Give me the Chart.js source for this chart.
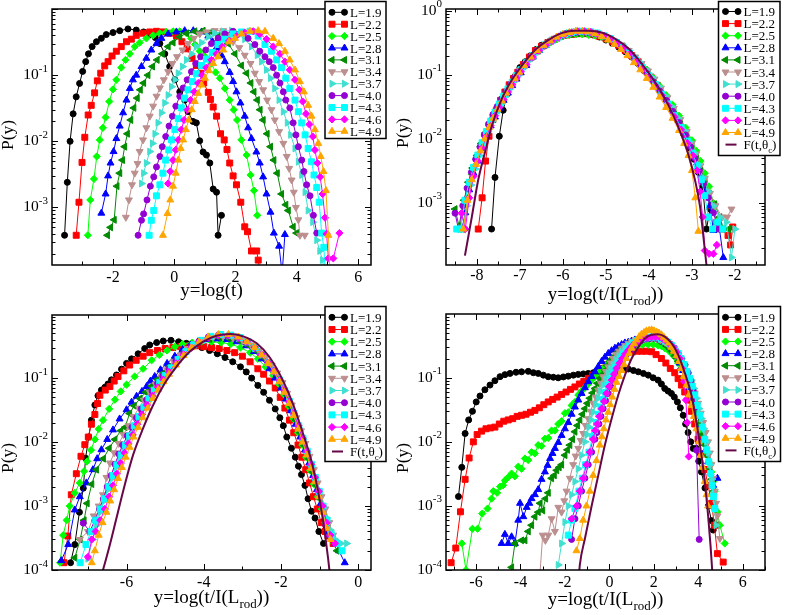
<!DOCTYPE html>
<html>
<head>
<meta charset="utf-8">
<title>P(y) distributions</title>
<script src="https://cdn.jsdelivr.net/npm/chart.js@4.4.1/dist/chart.umd.min.js"></script>
<style>
  html, body { margin: 0; padding: 0; background: #fff; }
  #wrap { position: relative; width: 789px; height: 615px; overflow: hidden; }
  canvas { position: absolute; }
</style>
</head>
<body>
<div id="wrap">
  <canvas id="c1" width="394" height="305" style="left:0;top:0"></canvas>
  <canvas id="c2" width="394" height="305" style="left:395px;top:0"></canvas>
  <canvas id="c3" width="394" height="310" style="left:0;top:305px"></canvas>
  <canvas id="c4" width="394" height="310" style="left:395px;top:305px"></canvas>
</div>
<script>
// series labels and styles
const labels = ['L=1.9','L=2.2','L=2.5','L=2.8','L=3.1','L=3.4','L=3.7','L=4.0','L=4.3','L=4.6','L=4.9'];
const colors = ['#000000','#ff0000','#00ff00','#0000ff','#008b00','#bc8f8f','#40e0d0','#9400d3','#00ffff','#ff00ff','#ffa500'];
const shapes = ['circle','rect','rectRot','triangle','triangle','triangle','triangle','circle','rect','rectRot','triangle'];
const rots   = [0,0,0,0,270,180,90,0,0,0,0];
const fColor = '#670748';

// tick labels
const xTicksA = [-2, 0, 2, 4, 6];
const xTicksB = [-8, -7, -6, -5, -4, -3, -2];
const xTicksC = [-6, -4, -2, 0];
const xTicksD = [-6, -4, -2, 0, 2, 4, 6];
const yDecA = [-3, -2, -1];
const yDecB = [-3, -2, -1, 0];
const yDecC = [-4, -3, -2, -1];
const yDecD = [-4, -3, -2, -1];

// ---------- panel A : y = log(t) ----------
const a19 = [[-3.58,3.8e-4],[-3.49,2.4e-3],[-3.40,0.010],[-3.30,0.026],[-3.20,0.047],[-3.09,0.075],[-2.99,0.114],[-2.89,0.16],[-2.80,0.21],[-2.68,0.27],[-2.54,0.32],[-2.38,0.36],[-2.22,0.41],[-2.0,0.44],[-1.78,0.47],[-1.51,0.50],[-1.24,0.48],[-1.0,0.45],[-0.78,0.41],[-0.62,0.37],[-0.47,0.30],[-0.31,0.21],[-0.15,0.135],[0.02,0.085],[0.18,0.056],[0.34,0.042],[0.45,0.028],[0.61,0.020],[0.72,0.019],[0.83,0.0102],[0.94,0.0069],[1.05,0.0062],[1.16,0.0047],[1.27,0.0019],[1.38,0.0017],[1.43,3.8e-4],[1.54,7.6e-4]];
const a22 = [[-3.20,3.8e-4],[-3.11,1.2e-3],[-3.01,4.8e-3],[-2.92,0.0115],[-2.81,0.025],[-2.71,0.035],[-2.60,0.054],[-2.51,0.082],[-2.40,0.107],[-2.27,0.138],[-2.16,0.16],[-2.03,0.195],[-1.89,0.23],[-1.73,0.27],[-1.56,0.32],[-1.40,0.35],[-1.24,0.40],[-1.02,0.43],[-0.80,0.45],[-0.58,0.46],[-0.37,0.45],[-0.15,0.43],[0.07,0.39],[0.25,0.32],[0.42,0.25],[0.58,0.18],[0.72,0.14],[0.86,0.107],[0.96,0.076],[1.11,0.055],[1.18,0.043],[1.27,0.033],[1.38,0.024],[1.51,0.013],[1.63,0.0105],[1.72,0.0075],[1.81,0.0047],[1.92,0.0030],[2.03,0.0022],[2.17,0.0012],[2.30,5.1e-4],[2.39,4.3e-4],[2.52,2.2e-4],[2.69,2.2e-4],[2.74,1.6e-4],[2.80,1.0e-4]];
const a25 = [[-2.82,3.8e-4],[-2.74,1.3e-3],[-2.62,2.7e-3],[-2.53,0.0059],[-2.43,0.0105],[-2.33,0.016],[-2.24,0.023],[-2.12,0.04],[-2.0,0.061],[-1.89,0.085],[-1.73,0.13],[-1.59,0.17],[-1.45,0.21],[-1.29,0.27],[-1.13,0.31],[-0.91,0.36],[-0.69,0.40],[-0.47,0.43],[-0.26,0.45],[-0.04,0.46],[0.18,0.46],[0.40,0.43],[0.55,0.36],[0.68,0.29],[0.83,0.23],[1.0,0.19],[1.21,0.15],[1.35,0.11],[1.49,0.09],[1.65,0.063],[1.81,0.042],[1.94,0.030],[2.05,0.021],[2.19,0.0105],[2.36,0.0062],[2.49,0.0031],[2.60,0.0018],[2.71,7.6e-4]];
const a28 = [[-2.38,8.2e-4],[-2.24,0.0016],[-2.16,0.003],[-2.08,0.0047],[-1.98,0.007],[-1.89,0.011],[-1.78,0.017],[-1.67,0.027],[-1.56,0.042],[-1.45,0.063],[-1.35,0.085],[-1.24,0.10],[-1.07,0.135],[-0.91,0.18],[-0.75,0.24],[-0.58,0.30],[-0.42,0.36],[-0.2,0.42],[0.07,0.45],[0.34,0.47],[0.62,0.47],[0.89,0.45],[1.11,0.39],[1.25,0.32],[1.38,0.26],[1.54,0.20],[1.65,0.16],[1.81,0.11],[1.92,0.08],[2.03,0.056],[2.16,0.038],[2.30,0.024],[2.41,0.016],[2.52,0.011],[2.68,0.0069],[2.79,0.0047],[2.90,0.0029],[3.01,0.0016],[3.14,8.5e-4],[3.25,4.1e-4],[3.42,2.6e-4],[3.52,1.0e-4],[3.61,3.9e-4]];
const a31 = [[-2.18,3.8e-4],[-2.08,5e-4],[-1.96,6.5e-4],[-1.87,0.0021],[-1.78,0.0033],[-1.69,0.0052],[-1.62,0.0083],[-1.53,0.013],[-1.42,0.021],[-1.32,0.032],[-1.21,0.045],[-1.11,0.06],[-1.0,0.076],[-0.86,0.10],[-0.71,0.135],[-0.56,0.17],[-0.39,0.21],[-0.2,0.27],[-0.04,0.31],[0.18,0.38],[0.4,0.43],[0.67,0.46],[0.94,0.47],[1.21,0.45],[1.43,0.40],[1.62,0.35],[1.76,0.30],[1.98,0.21],[2.19,0.14],[2.36,0.107],[2.50,0.076],[2.60,0.056],[2.71,0.042],[2.80,0.03],[2.90,0.021],[3.03,0.013],[3.14,0.0083],[3.25,0.0052],[3.36,0.0033],[3.50,0.0016],[3.64,0.0011],[3.72,9e-4],[3.88,5.1e-4],[3.99,4.1e-4]];
const a34 = [[-1.58,7.1e-4],[-1.48,0.0013],[-1.38,0.0022],[-1.29,0.0033],[-1.2,0.0046],[-1.13,0.007],[-1.02,0.0105],[-0.91,0.016],[-0.80,0.024],[-0.69,0.034],[-0.58,0.048],[-0.47,0.064],[-0.34,0.085],[-0.2,0.113],[-0.06,0.15],[0.09,0.19],[0.27,0.24],[0.45,0.30],[0.64,0.36],[0.83,0.42],[1.05,0.45],[1.32,0.47],[1.6,0.47],[1.81,0.40],[1.92,0.32],[2.12,0.26],[2.30,0.20],[2.49,0.15],[2.63,0.107],[2.77,0.08],[2.90,0.06],[3.03,0.042],[3.17,0.03],[3.28,0.021],[3.42,0.014],[3.56,0.0093],[3.67,0.0059],[3.75,0.0039],[3.83,0.0026],[3.90,0.0017],[3.97,0.001],[4.05,6.5e-4],[4.10,3.8e-4],[4.26,3.8e-4]];
const a37 = [[-1.07,0.0023],[-1.0,0.0033],[-0.91,0.0047],[-0.8,0.007],[-0.71,0.0093],[-0.63,0.013],[-0.53,0.019],[-0.42,0.027],[-0.31,0.038],[-0.2,0.05],[-0.09,0.067],[0.02,0.085],[0.13,0.107],[0.27,0.135],[0.4,0.17],[0.56,0.21],[0.72,0.27],[0.89,0.31],[1.11,0.38],[1.32,0.43],[1.6,0.46],[1.87,0.47],[2.09,0.41],[2.30,0.35],[2.52,0.27],[2.71,0.20],[2.85,0.16],[3.01,0.12],[3.14,0.09],[3.28,0.063],[3.42,0.042],[3.56,0.028],[3.69,0.019],[3.80,0.0125],[3.94,0.0078],[4.05,0.0049],[4.16,0.0031],[4.27,0.0017],[4.37,9e-4],[4.52,6e-4],[4.65,3.2e-4],[4.75,2.2e-4],[4.84,1.6e-4],[4.9,1.0e-4]];
const a40 = [[-1.18,3.8e-4],[-1.07,6.4e-4],[-1.0,8e-4],[-0.89,0.0013],[-0.78,0.0021],[-0.67,0.0029],[-0.58,0.0041],[-0.47,0.0059],[-0.39,0.0083],[-0.28,0.0118],[-0.17,0.017],[-0.06,0.024],[0.05,0.034],[0.18,0.048],[0.29,0.064],[0.42,0.085],[0.56,0.113],[0.7,0.15],[0.86,0.19],[1.03,0.24],[1.21,0.30],[1.43,0.36],[1.65,0.42],[1.92,0.46],[2.19,0.44],[2.41,0.36],[2.63,0.29],[2.79,0.23],[2.96,0.19],[3.10,0.16],[3.23,0.13],[3.34,0.10],[3.45,0.076],[3.56,0.056],[3.64,0.042],[3.77,0.032],[3.88,0.019],[3.97,0.0125],[4.05,0.0083],[4.16,0.0052],[4.23,0.0035],[4.32,0.0022],[4.43,0.0015],[4.54,7.6e-4],[4.65,4.1e-4]];
const a43 = [[-0.82,3.8e-4],[-0.75,6.4e-4],[-0.67,9e-4],[-0.58,0.0015],[-0.47,0.0022],[-0.37,0.0033],[-0.28,0.0052],[-0.18,0.0074],[-0.09,0.0105],[0.02,0.015],[0.13,0.022],[0.23,0.032],[0.34,0.045],[0.45,0.06],[0.59,0.08],[0.72,0.105],[0.89,0.14],[1.05,0.175],[1.24,0.22],[1.43,0.29],[1.65,0.35],[1.92,0.42],[2.19,0.45],[2.47,0.46],[2.74,0.39],[2.96,0.29],[3.17,0.23],[3.34,0.17],[3.50,0.13],[3.64,0.09],[3.77,0.063],[3.94,0.042],[4.05,0.028],[4.16,0.019],[4.27,0.0125],[4.37,0.0078],[4.48,0.0049],[4.56,0.0031],[4.65,0.0020],[4.73,0.0012],[4.81,4.1e-4],[4.88,2.5e-4],[4.93,1.0e-4]];
const a46 = [[-0.2,0.0023],[-0.13,0.0035],[-0.04,0.0052],[0.05,0.0074],[0.13,0.0105],[0.23,0.015],[0.32,0.021],[0.43,0.03],[0.53,0.042],[0.65,0.056],[0.78,0.076],[0.91,0.10],[1.05,0.13],[1.21,0.17],[1.38,0.21],[1.57,0.27],[1.79,0.33],[2.03,0.39],[2.3,0.44],[2.58,0.46],[2.79,0.42],[3.01,0.35],[3.23,0.27],[3.45,0.21],[3.61,0.16],[3.77,0.12],[3.94,0.085],[4.08,0.06],[4.19,0.040],[4.30,0.026],[4.41,0.018],[4.52,0.0118],[4.59,0.0074],[4.67,0.0047],[4.76,0.0029],[4.84,0.0016],[4.92,7e-4],[4.97,4e-4],[5.03,1.7e-4],[5.19,1.7e-4],[5.39,4.1e-4]];
const a49 = [[-0.37,3.8e-4],[-0.22,8.1e-4],[-0.13,0.0013],[-0.04,0.0021],[0.05,0.0033],[0.13,0.0052],[0.21,0.0078],[0.29,0.0105],[0.38,0.015],[0.47,0.021],[0.57,0.03],[0.67,0.04],[0.78,0.053],[0.89,0.071],[1.0,0.09],[1.13,0.117],[1.27,0.15],[1.43,0.19],[1.6,0.24],[1.79,0.32],[1.98,0.36],[2.19,0.42],[2.47,0.46],[2.74,0.47],[2.96,0.46],[3.23,0.36],[3.42,0.30],[3.61,0.23],[3.77,0.17],[3.94,0.12],[4.10,0.08],[4.23,0.056],[4.37,0.035],[4.48,0.024],[4.59,0.015],[4.70,0.0093],[4.78,0.0059],[4.87,0.0035],[4.95,0.0018],[5.03,3.8e-4],[5.08,1.0e-4]];

// ---------- panel B : y = log(t/I(Lrod)), collapse ----------
const b19 = [[-7.66,3.9e-4],[-7.58,0.0025],[-7.48,0.011],[-7.39,0.028],[-7.3,0.05],[-7.2,0.07],[-7.1,0.098],[-7.0,0.13],[-6.88,0.16],[-6.75,0.2],[-6.62,0.25],[-6.5,0.29],[-6.35,0.32],[-6.2,0.36],[-6.05,0.40],[-5.9,0.43],[-5.75,0.44],[-5.6,0.45],[-5.45,0.44],[-5.3,0.42],[-5.15,0.39],[-5.0,0.35],[-4.85,0.31],[-4.7,0.27],[-4.55,0.23],[-4.4,0.19],[-4.25,0.15],[-4.1,0.115],[-3.95,0.088],[-3.8,0.065],[-3.65,0.046],[-3.5,0.031],[-3.35,0.02],[-3.2,0.012],[-3.05,0.0072],[-2.95,0.0048],[-2.85,0.003],[-2.75,0.0018],[-2.66,3.9e-4],[-2.58,8e-4]];
const b22 = [[-7.97,3.9e-4],[-7.88,0.0012],[-7.8,0.0045],[-7.72,0.011],[-7.63,0.02],[-7.55,0.028],[-7.45,0.04],[-7.35,0.054],[-7.25,0.07],[-7.15,0.088],[-7.05,0.11],[-6.92,0.145],[-6.78,0.19],[-6.64,0.24],[-6.5,0.28],[-6.35,0.32],[-6.2,0.36],[-6.05,0.40],[-5.9,0.42],[-5.75,0.43],[-5.6,0.44],[-5.45,0.44],[-5.3,0.43],[-5.15,0.40],[-5.0,0.37],[-4.85,0.33],[-4.7,0.29],[-4.55,0.24],[-4.4,0.20],[-4.25,0.16],[-4.1,0.12],[-3.95,0.092],[-3.8,0.068],[-3.65,0.048],[-3.5,0.033],[-3.35,0.022],[-3.2,0.014],[-3.05,0.0085],[-2.95,0.0055],[-2.85,0.0035],[-2.75,0.0022],[-2.65,0.0014],[-2.55,9e-4],[-2.42,5e-4],[-2.3,3.9e-4],[-2.16,3.1e-4],[-2.1,2.2e-4],[-2.05,4.2e-4]];
const b25 = [[-8.3,3.9e-4],[-8.22,0.0012],[-8.12,0.0028],[-8.02,0.0048],[-7.92,0.0075],[-7.82,0.0115],[-7.72,0.016],[-7.62,0.023],[-7.52,0.031],[-7.42,0.041],[-7.32,0.053],[-7.22,0.068],[-7.12,0.088],[-7.02,0.11],[-6.9,0.14],[-6.75,0.18],[-6.6,0.23],[-6.45,0.28],[-6.3,0.32],[-6.15,0.36],[-6.0,0.40],[-5.85,0.42],[-5.7,0.43],[-5.55,0.43],[-5.4,0.42],[-5.25,0.41],[-5.1,0.39],[-4.95,0.36],[-4.8,0.32],[-4.65,0.28],[-4.5,0.24],[-4.35,0.19],[-4.2,0.15],[-4.05,0.12],[-3.9,0.09],[-3.75,0.067],[-3.6,0.048],[-3.45,0.034],[-3.3,0.023],[-3.15,0.015],[-3.0,0.0095],[-2.9,0.0065],[-2.8,0.0045],[-2.7,0.0029],[-2.6,0.0018],[-2.5,0.001],[-2.42,5e-4]];
const b28 = [[-8.35,3.9e-4],[-8.27,7e-4],[-8.18,0.0016],[-8.08,0.0029],[-7.98,0.0045],[-7.88,0.0072],[-7.78,0.011],[-7.68,0.016],[-7.58,0.022],[-7.48,0.03],[-7.38,0.04],[-7.28,0.052],[-7.18,0.068],[-7.08,0.086],[-6.98,0.108],[-6.85,0.14],[-6.7,0.19],[-6.55,0.24],[-6.4,0.29],[-6.25,0.34],[-6.1,0.39],[-5.95,0.43],[-5.8,0.45],[-5.65,0.46],[-5.5,0.46],[-5.35,0.45],[-5.2,0.43],[-5.05,0.40],[-4.9,0.36],[-4.75,0.31],[-4.6,0.27],[-4.45,0.22],[-4.3,0.17],[-4.15,0.13],[-4.0,0.10],[-3.85,0.074],[-3.7,0.053],[-3.55,0.037],[-3.4,0.025],[-3.25,0.016],[-3.1,0.0098],[-2.98,0.0064],[-2.88,0.0042],[-2.78,0.0027],[-2.68,0.0016],[-2.58,9e-4],[-2.5,3.7e-4],[-2.38,5e-4],[-2.27,1.4e-4]];
const b31 = [[-8.51,8e-4],[-8.4,3.9e-4],[-8.3,0.0011],[-8.2,0.0021],[-8.1,0.0035],[-8.0,0.0055],[-7.9,0.0085],[-7.8,0.0125],[-7.7,0.018],[-7.6,0.025],[-7.5,0.033],[-7.4,0.043],[-7.3,0.056],[-7.2,0.072],[-7.1,0.09],[-7.0,0.112],[-6.87,0.145],[-6.72,0.19],[-6.57,0.24],[-6.42,0.29],[-6.27,0.34],[-6.12,0.38],[-5.97,0.42],[-5.82,0.44],[-5.67,0.45],[-5.52,0.45],[-5.37,0.44],[-5.22,0.43],[-5.07,0.40],[-4.92,0.36],[-4.77,0.32],[-4.62,0.28],[-4.47,0.23],[-4.32,0.18],[-4.17,0.14],[-4.02,0.108],[-3.87,0.08],[-3.72,0.058],[-3.57,0.041],[-3.42,0.028],[-3.27,0.019],[-3.12,0.012],[-3.0,0.008],[-2.9,0.0055],[-2.8,0.0035],[-2.7,0.0022],[-2.6,0.0014],[-2.47,9.5e-4],[-2.35,6e-4],[-2.27,3.9e-4],[-2.15,3.9e-4]];
const b34 = [[-8.3,3.9e-4],[-8.2,0.0011],[-8.1,0.0025],[-8.0,0.0042],[-7.9,0.0068],[-7.8,0.0105],[-7.7,0.015],[-7.6,0.021],[-7.5,0.029],[-7.4,0.039],[-7.3,0.051],[-7.2,0.066],[-7.1,0.085],[-7.0,0.107],[-6.87,0.14],[-6.72,0.185],[-6.57,0.235],[-6.42,0.285],[-6.27,0.335],[-6.12,0.38],[-5.97,0.42],[-5.82,0.45],[-5.67,0.47],[-5.52,0.47],[-5.37,0.46],[-5.22,0.44],[-5.07,0.41],[-4.92,0.37],[-4.77,0.33],[-4.62,0.29],[-4.47,0.24],[-4.32,0.19],[-4.17,0.15],[-4.02,0.115],[-3.87,0.086],[-3.72,0.062],[-3.57,0.044],[-3.42,0.03],[-3.27,0.02],[-3.12,0.013],[-3.0,0.0085],[-2.9,0.0058],[-2.8,0.0038],[-2.7,0.0024],[-2.58,0.0014],[-2.45,9e-4],[-2.3,6e-4],[-2.18,6e-4],[-2.08,8e-4]];
const b37 = [[-8.33,3.9e-4],[-8.24,9e-4],[-8.14,0.0019],[-8.04,0.0034],[-7.94,0.0055],[-7.84,0.0088],[-7.74,0.013],[-7.64,0.019],[-7.54,0.026],[-7.44,0.035],[-7.34,0.046],[-7.24,0.06],[-7.14,0.078],[-7.04,0.098],[-6.92,0.127],[-6.77,0.17],[-6.62,0.22],[-6.47,0.27],[-6.32,0.32],[-6.17,0.37],[-6.02,0.42],[-5.87,0.45],[-5.72,0.47],[-5.57,0.48],[-5.42,0.47],[-5.27,0.45],[-5.12,0.42],[-4.97,0.39],[-4.82,0.35],[-4.67,0.30],[-4.52,0.25],[-4.37,0.2],[-4.22,0.16],[-4.07,0.12],[-3.92,0.09],[-3.77,0.066],[-3.62,0.047],[-3.47,0.032],[-3.32,0.021],[-3.17,0.0135],[-3.05,0.009],[-2.95,0.006],[-2.85,0.004],[-2.75,0.0025],[-2.62,0.0015],[-2.5,9e-4],[-2.35,6e-4],[-2.2,5e-4],[-2.08,1.4e-4],[-2.0,3.9e-4]];
const b40 = [[-8.51,6.9e-4],[-8.43,3.9e-4],[-8.33,9e-4],[-8.23,0.0017],[-8.13,0.003],[-8.03,0.0048],[-7.93,0.0075],[-7.83,0.0115],[-7.73,0.017],[-7.63,0.024],[-7.53,0.032],[-7.43,0.042],[-7.33,0.055],[-7.23,0.071],[-7.13,0.09],[-7.03,0.112],[-6.9,0.145],[-6.75,0.19],[-6.6,0.24],[-6.45,0.29],[-6.3,0.34],[-6.15,0.38],[-6.0,0.42],[-5.85,0.45],[-5.7,0.46],[-5.55,0.47],[-5.4,0.46],[-5.25,0.44],[-5.1,0.41],[-4.95,0.37],[-4.8,0.33],[-4.65,0.28],[-4.5,0.23],[-4.35,0.18],[-4.2,0.14],[-4.05,0.105],[-3.9,0.078],[-3.75,0.056],[-3.6,0.04],[-3.45,0.027],[-3.3,0.018],[-3.15,0.0115],[-3.03,0.0075],[-2.93,0.005],[-2.83,0.0032],[-2.73,0.002],[-2.62,0.0012],[-2.5,7e-4],[-2.38,3.9e-4]];
const b43 = [[-8.47,3.9e-4],[-8.38,3.9e-4],[-8.28,0.0011],[-8.18,0.0021],[-8.08,0.0036],[-7.98,0.0056],[-7.88,0.0087],[-7.78,0.013],[-7.68,0.019],[-7.58,0.026],[-7.48,0.035],[-7.38,0.046],[-7.28,0.06],[-7.18,0.077],[-7.08,0.097],[-6.98,0.12],[-6.85,0.155],[-6.7,0.2],[-6.55,0.25],[-6.4,0.3],[-6.25,0.35],[-6.1,0.39],[-5.95,0.43],[-5.8,0.46],[-5.65,0.48],[-5.5,0.48],[-5.35,0.47],[-5.2,0.45],[-5.05,0.41],[-4.9,0.37],[-4.75,0.32],[-4.6,0.27],[-4.45,0.22],[-4.3,0.17],[-4.15,0.13],[-4.0,0.097],[-3.85,0.071],[-3.7,0.05],[-3.55,0.035],[-3.4,0.023],[-3.25,0.015],[-3.1,0.0092],[-2.98,0.006],[-2.88,0.0038],[-2.78,0.0023],[-2.7,0.0013],[-2.62,6e-4],[-2.52,3.9e-4],[-2.4,5e-4],[-2.28,3.9e-4]];
const b46 = [[-8.36,6.9e-4],[-8.27,3.9e-4],[-8.18,0.0012],[-8.08,0.0026],[-7.98,0.0045],[-7.88,0.0072],[-7.78,0.011],[-7.68,0.016],[-7.58,0.023],[-7.48,0.031],[-7.38,0.041],[-7.28,0.054],[-7.18,0.07],[-7.08,0.09],[-6.98,0.112],[-6.85,0.145],[-6.7,0.19],[-6.55,0.24],[-6.4,0.29],[-6.25,0.34],[-6.1,0.39],[-5.95,0.43],[-5.8,0.46],[-5.65,0.48],[-5.5,0.48],[-5.35,0.47],[-5.2,0.44],[-5.05,0.41],[-4.9,0.36],[-4.75,0.31],[-4.6,0.26],[-4.45,0.21],[-4.3,0.165],[-4.15,0.125],[-4.0,0.093],[-3.85,0.068],[-3.7,0.048],[-3.55,0.033],[-3.4,0.022],[-3.25,0.014],[-3.1,0.0086],[-2.98,0.0055],[-2.88,0.0032],[-2.81,0.0015],[-2.75,6e-4],[-2.7,1.8e-4],[-2.6,1.6e-4],[-2.5,1.6e-4],[-2.42,2.2e-4]];
const b49 = [[-8.32,3.9e-4],[-8.22,0.0011],[-8.12,0.0023],[-8.02,0.004],[-7.92,0.0065],[-7.82,0.01],[-7.72,0.015],[-7.62,0.021],[-7.52,0.029],[-7.42,0.039],[-7.32,0.052],[-7.22,0.068],[-7.12,0.088],[-7.02,0.11],[-6.9,0.14],[-6.75,0.19],[-6.6,0.24],[-6.45,0.29],[-6.3,0.34],[-6.15,0.39],[-6.0,0.43],[-5.85,0.46],[-5.7,0.48],[-5.55,0.48],[-5.4,0.47],[-5.25,0.44],[-5.1,0.40],[-4.95,0.35],[-4.8,0.30],[-4.65,0.25],[-4.5,0.2],[-4.35,0.155],[-4.2,0.12],[-4.05,0.088],[-3.9,0.064],[-3.75,0.045],[-3.6,0.031],[-3.45,0.021],[-3.3,0.0135],[-3.18,0.0085],[-3.08,0.0055],[-3.0,0.0032],[-2.92,0.0012],[-2.85,3.6e-4]];
const bF = [[-8.28,1.5e-4],[-8.12,6e-4],[-7.97,0.0023],[-7.81,0.0063],[-7.66,0.0155],[-7.43,0.041],[-7.19,0.083],[-6.92,0.15],[-6.65,0.245],[-6.34,0.35],[-6.03,0.45],[-5.72,0.49],[-5.41,0.49],[-5.1,0.46],[-4.79,0.37],[-4.48,0.26],[-4.17,0.15],[-3.86,0.077],[-3.55,0.034],[-3.32,0.0155],[-3.09,0.0059],[-2.93,0.0023],[-2.81,8.7e-4],[-2.74,3.3e-4],[-2.68,1.4e-4],[-2.65,9e-5]];

// ---------- panel C ----------
const c19 = [[-7.45,1.3e-4],[-7.34,2.5e-4],[-7.22,8e-4],[-7.12,0.0019],[-7.06,0.0056],[-6.98,0.012],[-6.91,0.022],[-6.82,0.038],[-6.74,0.053],[-6.65,0.065],[-6.56,0.072],[-6.48,0.081],[-6.39,0.094],[-6.26,0.112],[-6.13,0.138],[-6.0,0.17],[-5.87,0.20],[-5.70,0.24],[-5.53,0.29],[-5.40,0.33],[-5.22,0.36],[-5.05,0.38],[-4.85,0.39],[-4.65,0.37],[-4.45,0.35],[-4.25,0.33],[-4.05,0.30],[-3.85,0.27],[-3.65,0.24],[-3.45,0.21],[-3.25,0.18],[-3.05,0.15],[-2.9,0.125],[-2.76,0.10],[-2.6,0.077],[-2.45,0.06],[-2.3,0.045],[-2.15,0.033],[-2.03,0.024],[-1.94,0.018],[-1.85,0.012],[-1.73,0.008],[-1.63,0.0058],[-1.55,0.0042],[-1.47,0.0031],[-1.38,0.0021],[-1.3,0.0013],[-1.21,8.3e-4],[-1.12,6.5e-4],[-1.02,4e-4],[-0.9,2.6e-4]];
const c22 = [[-7.62,1.3e-4],[-7.52,3.4e-4],[-7.43,0.0015],[-7.30,0.0032],[-7.18,0.006],[-7.08,0.0091],[-6.99,0.012],[-6.91,0.019],[-6.82,0.027],[-6.75,0.04],[-6.69,0.054],[-6.55,0.065],[-6.43,0.074],[-6.32,0.09],[-6.22,0.106],[-6.07,0.13],[-5.92,0.16],[-5.75,0.19],[-5.57,0.22],[-5.4,0.25],[-5.2,0.27],[-5.0,0.29],[-4.8,0.30],[-4.6,0.31],[-4.4,0.32],[-4.2,0.32],[-4.0,0.31],[-3.8,0.30],[-3.6,0.29],[-3.4,0.27],[-3.2,0.25],[-3.0,0.22],[-2.8,0.18],[-2.6,0.14],[-2.45,0.115],[-2.3,0.09],[-2.15,0.07],[-2.02,0.05],[-1.9,0.034],[-1.78,0.022],[-1.67,0.014],[-1.56,0.009],[-1.46,0.0058],[-1.36,0.0037],[-1.26,0.0023],[-1.16,0.0014],[-1.06,9e-4],[-0.96,5.5e-4],[-0.86,4e-4],[-0.78,3.4e-4],[-0.65,2.6e-4]];
const c25 = [[-7.72,1.3e-4],[-7.64,3.5e-4],[-7.55,6e-4],[-7.47,0.001],[-7.34,0.0016],[-7.21,0.0023],[-7.1,0.0035],[-7.02,0.005],[-6.92,0.0075],[-6.82,0.011],[-6.72,0.016],[-6.61,0.022],[-6.45,0.033],[-6.30,0.046],[-6.15,0.062],[-6.0,0.079],[-5.79,0.106],[-5.57,0.14],[-5.35,0.19],[-5.15,0.23],[-4.95,0.27],[-4.75,0.31],[-4.55,0.34],[-4.3,0.36],[-4.05,0.37],[-3.8,0.37],[-3.55,0.36],[-3.3,0.34],[-3.05,0.30],[-2.8,0.25],[-2.6,0.20],[-2.4,0.15],[-2.2,0.11],[-2.05,0.08],[-1.92,0.055],[-1.8,0.036],[-1.68,0.023],[-1.56,0.014],[-1.45,0.009],[-1.35,0.0058],[-1.25,0.0036],[-1.15,0.0022],[-1.05,0.0014],[-0.95,9e-4],[-0.85,5.5e-4],[-0.75,3.5e-4],[-0.62,2.6e-4]];
const c28 = [[-7.69,1.4e-4],[-7.51,2.5e-4],[-7.34,8.7e-4],[-7.21,0.0014],[-7.04,0.0023],[-6.87,0.0037],[-6.76,0.0055],[-6.65,0.0076],[-6.5,0.011],[-6.35,0.0155],[-6.18,0.023],[-6.0,0.032],[-5.87,0.042],[-5.74,0.052],[-5.6,0.062],[-5.48,0.074],[-5.38,0.09],[-5.27,0.106],[-5.12,0.135],[-4.95,0.17],[-4.75,0.22],[-4.55,0.28],[-4.35,0.33],[-4.15,0.37],[-3.9,0.40],[-3.65,0.41],[-3.4,0.40],[-3.15,0.37],[-2.9,0.32],[-2.7,0.26],[-2.5,0.20],[-2.3,0.14],[-2.15,0.10],[-2.0,0.07],[-1.87,0.047],[-1.75,0.031],[-1.62,0.019],[-1.5,0.012],[-1.38,0.0075],[-1.27,0.0047],[-1.17,0.003],[-1.07,0.0018],[-0.97,0.0011],[-0.87,6.5e-4],[-0.75,4e-4],[-0.62,3e-4],[-0.5,2e-4],[-0.35,1.3e-4]];
const c31 = [[-7.34,1.55e-4],[-7.2,3e-4],[-7.1,6e-4],[-7.02,0.0011],[-6.9,0.0022],[-6.78,0.0037],[-6.6,0.0055],[-6.45,0.008],[-6.3,0.011],[-6.15,0.015],[-6.04,0.017],[-5.92,0.028],[-5.8,0.037],[-5.65,0.048],[-5.5,0.06],[-5.35,0.075],[-5.2,0.095],[-5.05,0.12],[-4.9,0.15],[-4.7,0.2],[-4.5,0.26],[-4.3,0.32],[-4.1,0.37],[-3.85,0.41],[-3.6,0.43],[-3.35,0.42],[-3.1,0.39],[-2.85,0.33],[-2.65,0.27],[-2.45,0.21],[-2.28,0.16],[-2.12,0.115],[-1.98,0.08],[-1.86,0.055],[-1.74,0.036],[-1.62,0.022],[-1.5,0.014],[-1.39,0.0088],[-1.28,0.0055],[-1.18,0.0034],[-1.08,0.0021],[-0.98,0.0013],[-0.88,8e-4],[-0.78,5e-4],[-0.68,3e-4],[-0.55,2e-4]];
const c34 = [[-7.21,3e-4],[-7.0,4e-4],[-6.85,7e-4],[-6.72,0.001],[-6.61,0.0015],[-6.52,0.0028],[-6.43,0.0047],[-6.32,0.0068],[-6.2,0.0095],[-6.08,0.013],[-5.95,0.018],[-5.82,0.025],[-5.68,0.034],[-5.55,0.045],[-5.4,0.06],[-5.25,0.08],[-5.1,0.105],[-4.95,0.135],[-4.78,0.18],[-4.6,0.23],[-4.4,0.29],[-4.2,0.35],[-4.0,0.40],[-3.75,0.44],[-3.5,0.45],[-3.25,0.43],[-3.0,0.39],[-2.78,0.33],[-2.58,0.27],[-2.4,0.21],[-2.24,0.16],[-2.1,0.12],[-1.96,0.085],[-1.84,0.058],[-1.72,0.038],[-1.6,0.024],[-1.48,0.015],[-1.37,0.0095],[-1.26,0.006],[-1.15,0.0037],[-1.05,0.0023],[-0.95,0.0014],[-0.85,9e-4],[-0.75,5.5e-4],[-0.65,3.5e-4],[-0.52,2.6e-4]];
const c37 = [[-7.0,1.5e-4],[-6.88,3e-4],[-6.78,5e-4],[-6.68,8e-4],[-6.58,0.0012],[-6.48,0.0018],[-6.38,0.0027],[-6.28,0.004],[-6.18,0.0058],[-6.07,0.0082],[-5.96,0.0115],[-5.84,0.016],[-5.72,0.023],[-5.6,0.032],[-5.46,0.045],[-5.32,0.062],[-5.18,0.082],[-5.04,0.106],[-4.88,0.14],[-4.7,0.19],[-4.5,0.25],[-4.3,0.32],[-4.1,0.38],[-3.85,0.44],[-3.6,0.47],[-3.35,0.46],[-3.1,0.42],[-2.88,0.36],[-2.68,0.29],[-2.5,0.23],[-2.33,0.17],[-2.18,0.125],[-2.04,0.09],[-1.91,0.062],[-1.79,0.042],[-1.67,0.027],[-1.55,0.017],[-1.44,0.011],[-1.33,0.007],[-1.22,0.0044],[-1.12,0.0028],[-1.02,0.0017],[-0.92,0.001],[-0.82,6.5e-4],[-0.72,4.2e-4],[-0.6,3e-4],[-0.45,2.6e-4],[-0.3,2.6e-4]];
const c40 = [[-7.12,5.4e-4],[-6.95,4e-4],[-6.82,6e-4],[-6.7,9e-4],[-6.6,0.0013],[-6.5,0.002],[-6.4,0.003],[-6.3,0.0045],[-6.2,0.0065],[-6.1,0.009],[-5.98,0.0125],[-5.86,0.017],[-5.74,0.024],[-5.62,0.033],[-5.48,0.046],[-5.34,0.063],[-5.2,0.083],[-5.06,0.108],[-4.9,0.14],[-4.72,0.19],[-4.52,0.25],[-4.32,0.32],[-4.12,0.38],[-3.88,0.44],[-3.62,0.47],[-3.36,0.46],[-3.1,0.42],[-2.88,0.36],[-2.68,0.30],[-2.5,0.23],[-2.33,0.17],[-2.18,0.125],[-2.04,0.09],[-1.91,0.062],[-1.79,0.042],[-1.67,0.027],[-1.55,0.017],[-1.44,0.011],[-1.33,0.0068],[-1.22,0.0042],[-1.12,0.0026],[-1.02,0.0016],[-0.92,9.5e-4],[-0.84,5e-4],[-0.75,3.4e-4],[-0.62,2.6e-4]];
const c43 = [[-7.2,1.3e-4],[-7.05,2.5e-4],[-6.92,4e-4],[-6.8,6e-4],[-6.68,9e-4],[-6.57,0.0013],[-6.46,0.002],[-6.35,0.003],[-6.25,0.0044],[-6.14,0.0063],[-6.03,0.009],[-5.92,0.0125],[-5.8,0.018],[-5.68,0.025],[-5.55,0.035],[-5.42,0.048],[-5.28,0.065],[-5.14,0.086],[-5.0,0.11],[-4.84,0.145],[-4.66,0.195],[-4.46,0.26],[-4.26,0.33],[-4.06,0.39],[-3.82,0.45],[-3.56,0.48],[-3.3,0.47],[-3.06,0.43],[-2.85,0.37],[-2.66,0.30],[-2.48,0.235],[-2.32,0.175],[-2.17,0.13],[-2.03,0.093],[-1.9,0.064],[-1.78,0.043],[-1.66,0.028],[-1.54,0.018],[-1.43,0.0115],[-1.32,0.0072],[-1.21,0.0045],[-1.11,0.0028],[-1.01,0.0017],[-0.91,0.001],[-0.81,6e-4],[-0.7,3.6e-4],[-0.55,2.6e-4],[-0.42,2e-4]];
const c46 = [[-7.0,1.6e-4],[-6.9,3e-4],[-6.8,4e-4],[-6.68,6e-4],[-6.56,9e-4],[-6.45,0.0014],[-6.35,0.0021],[-6.25,0.0032],[-6.15,0.0047],[-6.05,0.0068],[-5.95,0.0095],[-5.84,0.013],[-5.72,0.019],[-5.6,0.027],[-5.47,0.038],[-5.33,0.053],[-5.19,0.072],[-5.05,0.095],[-4.9,0.125],[-4.72,0.17],[-4.52,0.235],[-4.32,0.30],[-4.12,0.37],[-3.88,0.43],[-3.62,0.47],[-3.36,0.47],[-3.1,0.43],[-2.88,0.37],[-2.68,0.30],[-2.5,0.235],[-2.33,0.175],[-2.18,0.13],[-2.04,0.093],[-1.91,0.064],[-1.79,0.043],[-1.67,0.028],[-1.55,0.018],[-1.44,0.0115],[-1.33,0.0072],[-1.22,0.0045],[-1.12,0.0028],[-1.02,0.0017],[-0.92,0.001],[-0.82,5.5e-4],[-0.72,3.5e-4],[-0.6,2.6e-4]];
const c49 = [[-6.9,1.3e-4],[-6.82,2e-4],[-6.72,3.5e-4],[-6.62,5.5e-4],[-6.52,8e-4],[-6.42,0.0012],[-6.32,0.0018],[-6.22,0.0027],[-6.12,0.004],[-6.02,0.0058],[-5.92,0.0083],[-5.82,0.012],[-5.7,0.017],[-5.58,0.024],[-5.45,0.034],[-5.32,0.048],[-5.18,0.066],[-5.04,0.088],[-4.9,0.115],[-4.72,0.16],[-4.52,0.225],[-4.32,0.30],[-4.12,0.37],[-3.88,0.44],[-3.62,0.48],[-3.36,0.48],[-3.1,0.44],[-2.88,0.37],[-2.68,0.30],[-2.5,0.23],[-2.33,0.17],[-2.18,0.125],[-2.04,0.088],[-1.91,0.06],[-1.79,0.04],[-1.67,0.026],[-1.55,0.016],[-1.44,0.01],[-1.33,0.0063],[-1.22,0.0039],[-1.12,0.0024],[-1.02,0.0014],[-0.92,8e-4],[-0.82,4.5e-4],[-0.72,3e-4]];
const cF = [[-6.66,8e-5],[-6.61,1e-4],[-6.43,2.5e-4],[-6.26,6.5e-4],[-6.05,0.0021],[-5.83,0.0063],[-5.57,0.0165],[-5.31,0.038],[-5.01,0.083],[-4.71,0.15],[-4.36,0.26],[-4.02,0.37],[-3.67,0.46],[-3.32,0.49],[-2.98,0.45],[-2.63,0.35],[-2.29,0.21],[-1.94,0.089],[-1.68,0.038],[-1.42,0.013],[-1.21,0.005],[-1.04,0.0017],[-0.91,5.8e-4],[-0.78,1.5e-4],[-0.73,8e-5]];

// ---------- panel D ----------
const d19 = [[-6.79,0.0014],[-6.64,0.004],[-6.49,0.0135],[-6.33,0.022],[-6.16,0.03],[-5.99,0.042],[-5.82,0.052],[-5.6,0.065],[-5.37,0.077],[-5.15,0.09],[-4.92,0.104],[-4.7,0.112],[-4.47,0.117],[-4.2,0.122],[-3.95,0.124],[-3.65,0.126],[-3.42,0.12],[-3.2,0.117],[-2.97,0.11],[-2.75,0.104],[-2.52,0.102],[-2.30,0.1],[-2.07,0.103],[-1.85,0.106],[-1.62,0.11],[-1.40,0.113],[-1.17,0.115],[-0.95,0.117],[-0.72,0.12],[-0.50,0.124],[-0.27,0.128],[-0.05,0.132],[0.18,0.135],[0.40,0.137],[0.63,0.137],[0.85,0.137],[1.08,0.13],[1.30,0.124],[1.53,0.117],[1.75,0.11],[1.97,0.1],[2.19,0.092],[2.34,0.08],[2.49,0.068],[2.64,0.062],[2.79,0.057],[2.92,0.05],[3.06,0.042],[3.19,0.034],[3.32,0.026],[3.43,0.019],[3.54,0.014],[3.66,0.01],[3.77,0.0079],[3.92,0.0079],[4.02,0.005],[4.14,0.0034],[4.3,0.0019],[4.45,0.001],[4.59,5.9e-4],[4.67,4.2e-4]];
const d22 = [[-7.12,1.3e-4],[-6.91,2.2e-4],[-6.70,8.1e-4],[-6.49,0.0026],[-6.31,0.0056],[-6.12,0.01],[-5.95,0.013],[-5.75,0.0147],[-5.55,0.016],[-5.35,0.0165],[-5.15,0.017],[-4.95,0.019],[-4.75,0.021],[-4.55,0.022],[-4.35,0.023],[-4.15,0.025],[-3.95,0.026],[-3.75,0.027],[-3.55,0.029],[-3.35,0.031],[-3.15,0.034],[-2.95,0.038],[-2.75,0.042],[-2.55,0.046],[-2.35,0.05],[-2.15,0.055],[-1.95,0.06],[-1.75,0.066],[-1.55,0.072],[-1.35,0.08],[-1.15,0.088],[-0.95,0.098],[-0.75,0.11],[-0.55,0.125],[-0.35,0.14],[-0.15,0.16],[0.05,0.18],[0.25,0.20],[0.45,0.22],[0.65,0.235],[0.85,0.25],[1.05,0.255],[1.25,0.26],[1.45,0.26],[1.65,0.26],[1.9,0.255],[2.1,0.23],[2.34,0.20],[2.54,0.17],[2.74,0.14],[2.94,0.12],[3.09,0.097],[3.24,0.077],[3.39,0.06],[3.54,0.045],[3.69,0.03],[3.84,0.019],[3.99,0.011],[4.14,0.0065],[4.29,0.0037],[4.44,0.0021],[4.6,0.0011],[4.72,5e-4],[4.86,1.8e-4],[5.12,1.33e-4]];
const d25 = [[-6.64,2.6e-4],[-6.45,1e-4],[-6.16,4.4e-4],[-5.93,4.4e-4],[-5.72,7.6e-4],[-5.48,9.1e-4],[-5.3,0.0013],[-5.22,0.0017],[-5.05,0.0016],[-4.92,0.002],[-4.78,0.0021],[-4.7,0.0025],[-4.55,0.0028],[-4.40,0.0032],[-4.25,0.0029],[-4.10,0.0041],[-3.95,0.0038],[-3.80,0.0055],[-3.65,0.0052],[-3.50,0.0069],[-3.35,0.0066],[-3.20,0.0089],[-3.05,0.0086],[-2.90,0.0112],[-2.75,0.0115],[-2.60,0.015],[-2.45,0.015],[-2.30,0.019],[-2.15,0.021],[-2.0,0.028],[-1.85,0.029],[-1.70,0.037],[-1.55,0.042],[-1.40,0.054],[-1.25,0.062],[-1.10,0.07],[-0.95,0.08],[-0.80,0.092],[-0.65,0.104],[-0.50,0.117],[-0.35,0.13],[-0.20,0.148],[-0.05,0.17],[0.10,0.19],[0.25,0.21],[0.40,0.23],[0.55,0.25],[0.70,0.27],[0.85,0.285],[1.0,0.30],[1.15,0.31],[1.30,0.32],[1.5,0.33],[1.75,0.33],[1.97,0.33],[2.19,0.32],[2.35,0.31],[2.49,0.29],[2.64,0.27],[2.79,0.24],[2.94,0.21],[3.09,0.17],[3.24,0.135],[3.39,0.104],[3.54,0.078],[3.69,0.057],[3.8,0.042],[3.92,0.029],[4.03,0.02],[4.14,0.014],[4.25,0.0098],[4.37,0.0069],[4.48,0.0048],[4.59,0.0034],[4.67,0.0024],[4.74,0.0017],[4.86,8.1e-4],[4.97,5e-4],[5.19,2.6e-4]];
const d28 = [[-4.85,2.6e-4],[-4.70,3.6e-4],[-4.55,2.6e-4],[-4.40,3.3e-4],[-4.25,2.6e-4],[-4.10,6e-4],[-4.02,0.0011],[-3.87,6.8e-4],[-3.72,9.5e-4],[-3.60,0.0011],[-3.50,0.0013],[-3.35,0.0015],[-3.2,0.0018],[-3.05,0.0026],[-2.90,0.0034],[-2.78,0.0043],[-2.67,0.0055],[-2.56,0.0066],[-2.45,0.0079],[-2.30,0.0098],[-2.15,0.0126],[-2.0,0.016],[-1.85,0.020],[-1.70,0.027],[-1.55,0.035],[-1.40,0.045],[-1.25,0.057],[-1.10,0.07],[-0.95,0.087],[-0.80,0.105],[-0.65,0.124],[-0.50,0.15],[-0.35,0.18],[-0.20,0.21],[-0.05,0.24],[0.10,0.265],[0.25,0.29],[0.40,0.31],[0.55,0.33],[0.70,0.35],[0.85,0.36],[1.0,0.375],[1.15,0.39],[1.35,0.40],[1.52,0.41],[1.70,0.41],[1.90,0.41],[2.08,0.40],[2.27,0.39],[2.42,0.36],[2.57,0.33],[2.72,0.30],[2.87,0.26],[3.02,0.215],[3.17,0.17],[3.32,0.13],[3.47,0.098],[3.62,0.07],[3.77,0.048],[3.88,0.035],[3.99,0.025],[4.1,0.017],[4.22,0.011],[4.33,0.0075],[4.44,0.0049],[4.55,0.0033],[4.67,0.0021],[4.86,0.0027]];
const d31 = [[-4.4,1.1e-4],[-4.25,2.6e-4],[-3.95,2.9e-4],[-3.8,2.9e-4],[-3.65,4e-4],[-3.5,5e-4],[-3.35,6.8e-4],[-3.2,8e-4],[-3.12,0.0011],[-3.0,8.5e-4],[-2.87,0.0013],[-2.75,0.0016],[-2.60,0.0027],[-2.48,0.003],[-2.37,0.0036],[-2.26,0.004],[-2.15,0.0044],[-2.0,0.0062],[-1.89,0.0075],[-1.78,0.0089],[-1.66,0.011],[-1.55,0.0144],[-1.44,0.018],[-1.33,0.022],[-1.21,0.027],[-1.10,0.033],[-0.99,0.04],[-0.88,0.048],[-0.76,0.058],[-0.65,0.068],[-0.54,0.082],[-0.43,0.098],[-0.31,0.113],[-0.20,0.13],[-0.09,0.155],[0.02,0.18],[0.13,0.2],[0.25,0.22],[0.40,0.255],[0.55,0.29],[0.70,0.31],[0.85,0.33],[1.03,0.35],[1.22,0.37],[1.40,0.39],[1.60,0.41],[1.78,0.41],[1.97,0.41],[2.15,0.39],[2.34,0.37],[2.49,0.335],[2.64,0.30],[2.79,0.26],[2.94,0.22],[3.09,0.18],[3.24,0.14],[3.39,0.105],[3.54,0.077],[3.69,0.054],[3.84,0.037],[3.95,0.027],[4.07,0.019],[4.18,0.013],[4.29,0.0089],[4.40,0.006],[4.52,0.0038],[4.6,0.0026],[4.67,0.0017],[4.75,9e-4],[4.82,5e-4]];
const d34 = [[-3.12,9e-5],[-3.0,3.5e-4],[-2.88,2.9e-4],[-2.75,3.5e-4],[-2.60,6.3e-4],[-2.45,4e-4],[-2.30,9.5e-4],[-2.15,8e-4],[-2.03,0.0012],[-1.93,0.0017],[-1.78,0.0027],[-1.63,0.0044],[-1.52,0.006],[-1.40,0.0079],[-1.29,0.0105],[-1.18,0.0135],[-1.07,0.018],[-0.95,0.023],[-0.84,0.03],[-0.73,0.04],[-0.61,0.05],[-0.50,0.064],[-0.39,0.082],[-0.28,0.104],[-0.16,0.125],[-0.05,0.148],[0.06,0.17],[0.17,0.20],[0.3,0.23],[0.43,0.26],[0.56,0.29],[0.70,0.32],[0.85,0.345],[1.0,0.37],[1.18,0.39],[1.37,0.41],[1.56,0.42],[1.75,0.43],[1.93,0.42],[2.12,0.41],[2.30,0.39],[2.49,0.36],[2.64,0.33],[2.79,0.30],[2.94,0.26],[3.09,0.22],[3.24,0.18],[3.39,0.148],[3.54,0.11],[3.69,0.081],[3.84,0.058],[3.99,0.040],[4.11,0.028],[4.22,0.020],[4.33,0.014],[4.44,0.01],[4.52,0.0067],[4.59,0.0044],[4.67,0.0027],[4.74,0.0017],[4.8,0.0011],[4.86,7e-4],[4.97,3.1e-4]];
const d37 = [[-2.3,1.2e-4],[-2.15,2.6e-4],[-2.0,5.6e-4],[-1.85,0.001],[-1.70,0.0015],[-1.55,0.0024],[-1.40,0.0038],[-1.25,0.0062],[-1.10,0.01],[-1.01,0.013],[-0.92,0.017],[-0.82,0.022],[-0.73,0.029],[-0.61,0.038],[-0.50,0.048],[-0.39,0.061],[-0.28,0.077],[-0.16,0.095],[-0.05,0.117],[0.06,0.138],[0.17,0.16],[0.3,0.19],[0.43,0.22],[0.56,0.255],[0.70,0.29],[0.85,0.32],[1.0,0.355],[1.18,0.38],[1.37,0.40],[1.56,0.42],[1.75,0.43],[1.93,0.43],[2.12,0.42],[2.30,0.40],[2.49,0.37],[2.64,0.345],[2.79,0.32],[2.94,0.28],[3.09,0.24],[3.24,0.2],[3.39,0.16],[3.54,0.12],[3.69,0.092],[3.80,0.068],[3.92,0.048],[4.03,0.033],[4.14,0.023],[4.25,0.016],[4.37,0.01],[4.45,0.0068],[4.52,0.0044],[4.6,0.0026],[4.67,0.0015],[4.74,9e-4],[4.8,5e-4]];
const d40 = [[-1.7,3e-4],[-1.55,6.3e-4],[-1.40,0.001],[-1.25,0.0017],[-1.10,0.0027],[-0.95,0.0044],[-0.80,0.0069],[-0.65,0.011],[-0.56,0.014],[-0.47,0.019],[-0.38,0.025],[-0.28,0.033],[-0.17,0.044],[-0.05,0.057],[0.06,0.073],[0.17,0.092],[0.28,0.114],[0.40,0.14],[0.52,0.17],[0.65,0.20],[0.78,0.235],[0.92,0.27],[1.07,0.31],[1.22,0.35],[1.41,0.38],[1.60,0.40],[1.78,0.41],[1.97,0.42],[2.15,0.415],[2.34,0.41],[2.49,0.39],[2.64,0.36],[2.79,0.33],[2.94,0.29],[3.09,0.245],[3.24,0.20],[3.39,0.16],[3.54,0.12],[3.66,0.09],[3.77,0.062],[3.86,0.035],[3.92,0.0074],[4.04,3e-4]];
const d43 = [[-1.85,3.5e-4],[-1.70,6e-4],[-1.55,9.1e-4],[-1.37,0.0017],[-1.22,0.0027],[-1.07,0.0044],[-0.92,0.0069],[-0.76,0.012],[-0.67,0.015],[-0.58,0.020],[-0.48,0.027],[-0.38,0.035],[-0.27,0.046],[-0.17,0.059],[-0.06,0.076],[0.05,0.095],[0.17,0.118],[0.28,0.144],[0.40,0.17],[0.52,0.20],[0.64,0.235],[0.77,0.27],[0.92,0.31],[1.07,0.35],[1.26,0.38],[1.45,0.41],[1.64,0.42],[1.82,0.43],[2.0,0.43],[2.19,0.43],[2.34,0.41],[2.49,0.39],[2.64,0.36],[2.79,0.32],[2.94,0.28],[3.09,0.24],[3.22,0.20],[3.36,0.16],[3.49,0.125],[3.62,0.098],[3.73,0.074],[3.84,0.054],[3.95,0.037],[4.07,0.026],[4.18,0.017],[4.29,0.011],[4.38,0.0075],[4.47,0.0049],[4.55,0.0032],[4.62,0.0021],[4.68,0.0014],[4.74,9.1e-4]];
const d46 = [[-1.70,6.3e-4],[-1.48,0.001],[-1.33,0.0017],[-1.18,0.0027],[-1.03,0.0044],[-0.88,0.0069],[-0.73,0.011],[-0.64,0.015],[-0.55,0.019],[-0.45,0.025],[-0.35,0.033],[-0.24,0.043],[-0.13,0.057],[-0.02,0.073],[0.10,0.092],[0.21,0.114],[0.32,0.14],[0.45,0.17],[0.58,0.20],[0.71,0.235],[0.85,0.27],[1.0,0.31],[1.15,0.35],[1.33,0.38],[1.52,0.41],[1.71,0.42],[1.90,0.43],[2.08,0.43],[2.27,0.43],[2.42,0.40],[2.57,0.37],[2.72,0.33],[2.87,0.30],[3.02,0.25],[3.17,0.20],[3.27,0.14],[3.36,0.087],[3.44,0.045],[3.5,0.02],[3.57,0.0059]];
const d49 = [[-1.48,2e-4],[-1.33,3.1e-4],[-1.18,6e-4],[-1.03,0.001],[-0.88,0.0017],[-0.73,0.003],[-0.58,0.0051],[-0.43,0.0089],[-0.34,0.012],[-0.25,0.016],[-0.15,0.022],[-0.05,0.029],[0.04,0.038],[0.13,0.05],[0.23,0.066],[0.32,0.085],[0.44,0.105],[0.55,0.13],[0.66,0.16],[0.77,0.20],[0.89,0.24],[1.0,0.29],[1.11,0.34],[1.22,0.39],[1.34,0.44],[1.45,0.48],[1.56,0.51],[1.67,0.54],[1.79,0.55],[1.90,0.56],[2.01,0.54],[2.12,0.52],[2.23,0.50],[2.34,0.47],[2.45,0.43],[2.57,0.39],[2.68,0.35],[2.79,0.30],[2.90,0.26],[3.02,0.22],[3.13,0.18],[3.24,0.14],[3.35,0.105],[3.47,0.077],[3.58,0.054],[3.69,0.037],[3.80,0.025],[3.92,0.016],[4.02,0.01],[4.11,0.0062],[4.2,0.004],[4.29,0.0024],[4.37,0.0015],[4.44,0.001]];
const dF = [[-1.36,9e-5],[-1.33,1.2e-4],[-1.10,3.1e-4],[-0.80,0.001],[-0.50,0.003],[-0.20,0.009],[0.10,0.023],[0.40,0.054],[0.70,0.11],[1.0,0.20],[1.30,0.30],[1.60,0.41],[1.90,0.47],[2.19,0.48],[2.49,0.44],[2.79,0.35],[3.09,0.23],[3.39,0.12],[3.69,0.054],[3.92,0.02],[4.14,0.0062],[4.29,0.0024],[4.44,7.1e-4],[4.55,2.4e-4],[4.62,1.05e-4],[4.65,8e-5]];

const FONT = '"Liberation Serif", "Times New Roman", serif';

function radiusFor(style) {
  if (style === 'circle') return 3;
  if (style === 'rect') return 4.2;
  if (style === 'rectRot') return 3.6;
  return 4;
}

function series(pts, i) {
  return {
    label: labels[i],
    data: pts.map(p => ({ x: p[0], y: p[1] })),
    borderColor: colors[i],
    backgroundColor: colors[i],
    pointBackgroundColor: colors[i],
    pointBorderColor: colors[i],
    pointStyle: shapes[i],
    pointRotation: rots[i],
    pointRadius: radiusFor(shapes[i]),
    pointBorderWidth: 1,
    borderWidth: 1,
    tension: 0,
    order: -i
  };
}

function fitLine(pts) {
  return {
    label: 'F',
    isF: true,
    data: pts.map(p => ({ x: p[0], y: p[1] })),
    borderColor: fColor,
    backgroundColor: fColor,
    borderWidth: 2,
    pointRadius: 0,
    cubicInterpolationMode: 'monotone',
    order: -20
  };
}

// draw text made of parts, some of them subscripts / superscripts
function partsWidth(ctx, parts, size) {
  let w = 0;
  parts.forEach(p => {
    ctx.font = (p.sub ? size * 0.68 : size) + 'px ' + FONT;
    w += ctx.measureText(p.t).width;
  });
  return w;
}
function drawParts(ctx, parts, x, y, size) {
  parts.forEach(p => {
    ctx.font = (p.sub ? size * 0.68 : size) + 'px ' + FONT;
    ctx.fillText(p.t, x, p.sub ? y + size * 0.28 : y);
    x += ctx.measureText(p.t).width;
  });
}

function marker(ctx, style, rotation, radius, x, y) {
  if (Chart.helpers && Chart.helpers.drawPoint) {
    Chart.helpers.drawPoint(ctx, { pointStyle: style, rotation: rotation, radius: radius, borderWidth: 1 }, x, y);
  } else {
    ctx.beginPath(); ctx.arc(x, y, radius, 0, Math.PI * 2); ctx.fill(); ctx.stroke();
  }
}

const graceAxes = {
  id: 'graceAxes',
  afterDraw(chart, args, cfg) {
    const ctx = chart.ctx, a = chart.chartArea;
    const xs = chart.scales.x, ys = chart.scales.y;
    ctx.save();
    ctx.strokeStyle = '#000';
    ctx.fillStyle = '#000';

    // tick marks, inward on all four sides
    ctx.lineWidth = 1;
    ctx.beginPath();
    const st = cfg.xMinor;
    for (let k = Math.ceil(xs.min / st); k <= Math.floor(xs.max / st); k++) {
      const v = k * st;
      const px = Math.round(xs.getPixelForValue(v)) + 0.5;
      const major = cfg.xTicks.some(t => Math.abs(t - v) < 1e-6);
      const len = major ? 6 : 3.5;
      ctx.moveTo(px, a.bottom); ctx.lineTo(px, a.bottom - len);
      ctx.moveTo(px, a.top); ctx.lineTo(px, a.top + len);
    }
    const e0 = Math.floor(Math.log10(ys.min)), e1 = Math.ceil(Math.log10(ys.max));
    for (let e = e0; e <= e1; e++) {
      for (let m = 1; m <= 9; m++) {
        const v = m * Math.pow(10, e);
        if (v < ys.min || v > ys.max) continue;
        const py = Math.round(ys.getPixelForValue(v)) + 0.5;
        const len = m === 1 ? 6 : 3.5;
        ctx.moveTo(a.left, py); ctx.lineTo(a.left + len, py);
        ctx.moveTo(a.right, py); ctx.lineTo(a.right - len, py);
      }
    }
    ctx.stroke();
    ctx.lineWidth = 1.5;
    ctx.strokeRect(a.left, a.top, a.right - a.left, a.bottom - a.top);

    // x tick labels
    ctx.textAlign = 'center';
    ctx.textBaseline = 'alphabetic';
    ctx.font = '16px ' + FONT;
    cfg.xTicks.forEach(t => {
      ctx.fillText(String(t), xs.getPixelForValue(t), a.bottom + cfg.xLabOff);
    });

    // y tick labels 10^k
    ctx.textAlign = 'left';
    cfg.yDec.forEach(e => {
      const py = ys.getPixelForValue(Math.pow(10, e));
      const sup = String(e);
      ctx.font = '15.5px ' + FONT;
      const wb = ctx.measureText('10').width;
      ctx.font = '11px ' + FONT;
      const ws = ctx.measureText(sup).width;
      const xr = a.left - 4;
      ctx.font = '15.5px ' + FONT;
      ctx.fillText('10', xr - ws - wb, py + 4);
      ctx.font = '11px ' + FONT;
      ctx.fillText(sup, xr - ws, py - 3.5);
    });

    // axis titles
    const tw = partsWidth(ctx, cfg.xTitle, 19);
    drawParts(ctx, cfg.xTitle, (a.left + a.right) / 2 - tw / 2, cfg.xTitleY, 19);
    ctx.save();
    ctx.translate(12.5, cfg.yTitleY);
    ctx.rotate(-Math.PI / 2);
    ctx.textAlign = 'center';
    ctx.font = '17.5px ' + FONT;
    ctx.fillText('P(y)', 0, 0);
    ctx.restore();

    // legend box
    const lg = cfg.legend;
    ctx.fillStyle = '#fff';
    ctx.fillRect(lg.x, lg.y, lg.w, lg.h);
    ctx.lineWidth = 1.5;
    ctx.strokeStyle = '#000';
    ctx.strokeRect(lg.x, lg.y, lg.w, lg.h);
    chart.data.datasets.forEach((ds, i) => {
      const cy = lg.y + lg.first + i * lg.rowH;
      const x1 = lg.x + 7, x2 = lg.x + 19.5;
      ctx.strokeStyle = ds.borderColor;
      ctx.lineWidth = ds.borderWidth;
      ctx.beginPath(); ctx.moveTo(x1, cy); ctx.lineTo(ds.isF ? x2 - 1.5 : x2, cy); ctx.stroke();
      if (!ds.isF) {
        ctx.fillStyle = ds.pointBackgroundColor;
        ctx.strokeStyle = ds.pointBorderColor;
        ctx.lineWidth = 1;
        marker(ctx, ds.pointStyle, ds.pointRotation, ds.pointRadius, x1, cy);
        marker(ctx, ds.pointStyle, ds.pointRotation, ds.pointRadius, x2, cy);
      }
      ctx.fillStyle = '#000';
      ctx.textAlign = 'left';
      const parts = ds.isF ? [{ t: 'F(t,\u03b8' }, { t: 'c', sub: true }, { t: ')' }] : [{ t: ds.label }];
      drawParts(ctx, parts, lg.x + 25, cy + 4.5, 13);
    });
    ctx.restore();
  }
};

function makeChart(id, sets, opt) {
  return new Chart(document.getElementById(id), {
    type: 'line',
    data: { datasets: sets },
    options: {
      responsive: false,
      animation: false,
      events: [],
      layout: { padding: opt.pad },
      scales: {
        x: { type: 'linear', min: opt.x[0], max: opt.x[1], display: false },
        y: { type: 'logarithmic', min: opt.y[0], max: opt.y[1], display: false }
      },
      plugins: {
        legend: { display: false },
        tooltip: { enabled: false },
        graceAxes: opt.axes
      }
    },
    plugins: [graceAxes]
  });
}

const titleT = [{ t: 'y=log(t)' }];
const titleR = [{ t: 'y=log(t/I(L' }, { t: 'rod', sub: true }, { t: '))' }];

makeChart('c1', [a19, a22, a25, a28, a31, a34, a37, a40, a43, a46, a49].map(series), {
  pad: { left: 52, top: 9, right: 23, bottom: 40 },
  x: [-3.99, 6.42], y: [1.35e-4, 1.0],
  axes: { xTicks: xTicksA, xMinor: 1, yDec: yDecA, xLabOff: 16.5, xTitle: titleT, xTitleY: 296, yTitleY: 135,
          legend: { x: 325, y: 1.5, w: 61, h: 137, first: 10.8, rowH: 11.9 } }
});

makeChart('c2', [b19, b22, b25, b28, b31, b34, b37, b40, b43, b46, b49].map(series).concat([fitLine(bF)]), {
  pad: { left: 51, top: 9, right: 24, bottom: 40 },
  x: [-8.72, -1.30], y: [1.07e-4, 1.07],
  axes: { xTicks: xTicksB, xMinor: 0.5, yDec: yDecB, xLabOff: 14.5, xTitle: titleR, xTitleY: 299.5, yTitleY: 133,
          legend: { x: 323.5, y: 1.5, w: 61.5, h: 154, first: 10, rowH: 12.1 } }
});

makeChart('c3', [c19, c22, c25, c28, c31, c34, c37, c40, c43, c46, c49].map(series).concat([fitLine(cF)]), {
  pad: { left: 52, top: 10, right: 23, bottom: 45 },
  x: [-7.93, 0.33], y: [1.0e-4, 0.97],
  axes: { xTicks: xTicksC, xMinor: 1, yDec: yDecC, xLabOff: 17, xTitle: titleR, xTitleY: 298, yTitleY: 153,
          legend: { x: 325, y: 1.5, w: 61, h: 155, first: 10.8, rowH: 12.2 } }
});

makeChart('c4', [d19, d22, d25, d28, d31, d34, d37, d40, d43, d46, d49].map(series).concat([fitLine(dF)]), {
  pad: { left: 51, top: 9, right: 24, bottom: 45 },
  x: [-7.35, 7.0], y: [1.0e-4, 0.99],
  axes: { xTicks: xTicksD, xMinor: 1, yDec: yDecD, xLabOff: 17, xTitle: titleR, xTitleY: 299.5, yTitleY: 153,
          legend: { x: 323.5, y: 1.5, w: 62, h: 155, first: 10.8, rowH: 12.1 } }
});
</script>
</body>
</html>
